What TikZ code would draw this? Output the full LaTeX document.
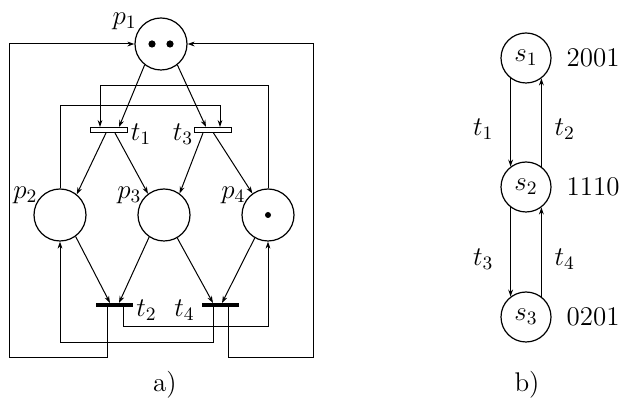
\RequirePackage{fix-cm}
\documentclass[tikz,border=0pt]{standalone}
\usepackage{tikz}
\usetikzlibrary{arrows.meta}

\begin{document}
\begin{tikzpicture}[x=0.5pt, y=-0.5pt, >={Stealth[length=3.5pt,width=2.4pt]},
  every node/.style={font=\fontsize{13.5}{16}\selectfont},
  place/.style={draw, circle, line width=0.6pt, inner sep=0pt, minimum size=26pt},
  state/.style={draw, circle, line width=0.6pt, inner sep=0pt, minimum size=25pt},
  hollowbar/.style={draw, fill=white, rectangle, inner sep=0pt, minimum width=18.5pt, minimum height=2.5pt, line width=0.5pt},
  solidbar/.style={fill=black, rectangle, inner sep=0pt, minimum width=18.5pt, minimum height=1.6pt},
  arc/.style={->, line width=0.5pt}]
\useasboundingbox (0,0) rectangle (627,400);
% a) the net
\node[place, label={[inner sep=0.5pt]150:$p_1$}] (p1) at (161,44) {};
\node[place, label={[inner sep=0pt, label distance=-1pt]155:$p_2$}] (p2) at (60,215) {};
\node[place, label={[inner sep=0pt, label distance=-1pt]155:$p_3$}] (p3) at (164,215) {};
\node[place, label={[inner sep=0pt, label distance=-1pt]155:$p_4$}] (p4) at (268,215) {};
\fill ([xshift=-4.5pt]p1.center) circle (1.8pt);
\fill ([xshift=4.5pt]p1.center) circle (1.8pt);
\fill (p4.center) circle (1.5pt);
\node[hollowbar, label={[inner sep=1.5pt, yshift=-2pt]right:$t_1$}] (t1) at (108.5,130) {};
\node[hollowbar, label={[inner sep=0pt, yshift=-2pt]left:$t_3$}] (t3) at (212.5,130) {};
\node[solidbar, label={[inner sep=1.5pt, yshift=-2.5pt]right:$t_2$}] (t2) at (114,305) {};
\node[solidbar, label={[inner sep=3pt, yshift=-2.5pt]left:$t_4$}] (t4) at (220,305) {};
\draw[arc] (p1.232) -- ([xshift=5.25pt]t1.north);
\draw[arc] (p1.308) -- ([xshift=-3.25pt]t3.north);
\draw[arc] (p4) -- (p4 |- 0,86) -| ([xshift=-4.25pt]t1.north);
\draw[arc] (p2) -- (p2 |- 0,106) -| ([xshift=3.75pt]t3.north);
\draw[arc] ([xshift=-1.25pt]t1.south) -- (p2.51);
\draw[arc] ([xshift=3.25pt]t1.south) -- (p3.127);
\draw[arc] ([xshift=-4.75pt]t3.south) -- (p3.54);
\draw[arc] ([xshift=0.5pt]t3.south) -- (p4.126);
\draw[arc] (p2.306) -- ([xshift=-2pt]t2.north);
\draw[arc] (p3.236) -- ([xshift=2.5pt]t2.north);
\draw[arc] (p3.300) -- ([xshift=-3.5pt]t4.north);
\draw[arc] (p4.240) -- ([xshift=1pt]t4.north);
\draw[arc] ([xshift=4.5pt]t2.south) |- (p4 |- 0,327) -- (p4);
\draw[arc] ([xshift=-3.5pt]t4.south) |- (p2 |- 0,343) -- (p2);
\draw[arc] ([xshift=-3.5pt]t2.south) |- (9,358) |- (p1);
\draw[arc] ([xshift=4pt]t4.south) |- (313,358) |- (p1);
\node (capa) at (165,385) {a)};
% b) the graph
\node[state, label={[label distance=4pt]right:2001}] (s1) at (526,58) {$s_1$};
\node[state, label={[label distance=4pt]right:1110}] (s2) at (526,187) {$s_2$};
\node[state, label={[label distance=4pt]right:0201}] (s3) at (526,317) {$s_3$};
\draw[arc] (s1.233) -- node[left=5pt, pos=.58] {$t_1$} (s2.127);
\draw[arc] (s2.53) -- node[right=3pt, pos=.42] {$t_2$} (s1.307);
\draw[arc] (s2.233) -- node[left=5pt, pos=.58] {$t_3$} (s3.127);
\draw[arc] (s3.53) -- node[right=3pt, pos=.42] {$t_4$} (s2.307);
\node (capb) at (527,385) {b)};
\end{tikzpicture}
\end{document}
